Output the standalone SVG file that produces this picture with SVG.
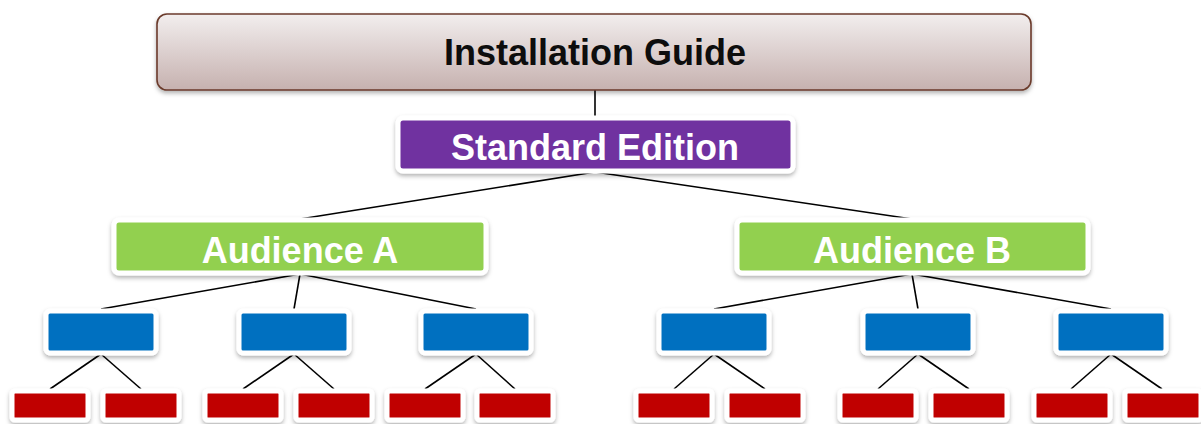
<svg xmlns="http://www.w3.org/2000/svg" width="1201" height="424" viewBox="0 0 1201 424">
<defs>
<linearGradient id="gTop" x1="0" y1="0" x2="0" y2="1">
<stop offset="0" stop-color="#f2eeee"/>
<stop offset="1" stop-color="#c6b1af"/>
</linearGradient>
<filter id="sh" x="-10%" y="-20%" width="120%" height="150%">
<feDropShadow dx="0" dy="2.5" stdDeviation="2" flood-color="#000" flood-opacity="0.3"/>
</filter>
<style>
.lnk{stroke:#000;stroke-width:1.6;fill:none}
.box{stroke:#fff;stroke-width:5;filter:url(#sh)}
.blue{fill:#0070c0}
.red{fill:#c00000}
.green{fill:#92d050}
.purple{fill:#7030a0}
.lbl{font-family:"Liberation Sans",Arial,sans-serif;font-weight:bold;font-size:36px;text-anchor:middle}
</style>
</defs>
<g id="connectors">
<line class="lnk" x1="595" y1="90" x2="595" y2="118"/>
<line class="lnk" x1="595" y1="172" x2="300" y2="219"/>
<line class="lnk" x1="595" y1="172" x2="912" y2="219"/>
<line class="lnk" x1="300" y1="274" x2="101" y2="309"/>
<line class="lnk" x1="300" y1="274" x2="294" y2="309"/>
<line class="lnk" x1="300" y1="274" x2="476" y2="309"/>
<line class="lnk" x1="912" y1="274" x2="714" y2="309"/>
<line class="lnk" x1="912" y1="274" x2="918" y2="309"/>
<line class="lnk" x1="912" y1="274" x2="1111" y2="309"/>
<line class="lnk" x1="101" y1="354" x2="50" y2="389"/>
<line class="lnk" x1="101" y1="354" x2="141" y2="389"/>
<line class="lnk" x1="294" y1="354" x2="243" y2="389"/>
<line class="lnk" x1="294" y1="354" x2="334" y2="389"/>
<line class="lnk" x1="476" y1="354" x2="425" y2="389"/>
<line class="lnk" x1="476" y1="354" x2="515" y2="389"/>
<line class="lnk" x1="714" y1="354" x2="674" y2="389"/>
<line class="lnk" x1="714" y1="354" x2="765" y2="389"/>
<line class="lnk" x1="918" y1="354" x2="878" y2="389"/>
<line class="lnk" x1="918" y1="354" x2="969" y2="389"/>
<line class="lnk" x1="1111" y1="354" x2="1071" y2="389"/>
<line class="lnk" x1="1111" y1="354" x2="1162" y2="389"/>
</g>
<g id="installation-guide">
<rect x="157" y="14" width="874" height="76" rx="10" fill="url(#gTop)" stroke="#6b3a2b" stroke-width="1.6" filter="url(#sh)"/>
<text class="lbl" x="595" y="65" fill="#0d0d0d">Installation Guide</text>
</g>
<g id="standard-edition">
<rect class="box purple" x="398" y="118" width="395" height="53" rx="5"/>
<text class="lbl" x="595" y="160" fill="#fff">Standard Edition</text>
</g>
<g id="audience-a">
<rect class="box green" x="114" y="220" width="372" height="53" rx="5"/>
<text class="lbl" x="300" y="263" fill="#fff">Audience A</text>
</g>
<g id="audience-b">
<rect class="box green" x="737" y="220" width="351" height="53" rx="5"/>
<text class="lbl" x="912" y="263" fill="#fff">Audience B</text>
</g>
<g id="a1"><rect class="box blue" x="46" y="311" width="110" height="42" rx="4"/></g>
<g id="a2"><rect class="box blue" x="239" y="311" width="110" height="42" rx="4"/></g>
<g id="a3"><rect class="box blue" x="421" y="311" width="110" height="42" rx="4"/></g>
<g id="b1"><rect class="box blue" x="659" y="311" width="110" height="42" rx="4"/></g>
<g id="b2"><rect class="box blue" x="863" y="311" width="110" height="42" rx="4"/></g>
<g id="b3"><rect class="box blue" x="1056" y="311" width="110" height="42" rx="4"/></g>
<g id="a1-1"><rect class="box red" x="12" y="391" width="76" height="29" rx="3"/></g>
<g id="a1-2"><rect class="box red" x="103" y="391" width="76" height="29" rx="3"/></g>
<g id="a2-1"><rect class="box red" x="205" y="391" width="76" height="29" rx="3"/></g>
<g id="a2-2"><rect class="box red" x="296" y="391" width="76" height="29" rx="3"/></g>
<g id="a3-1"><rect class="box red" x="387" y="391" width="76" height="29" rx="3"/></g>
<g id="a3-2"><rect class="box red" x="477" y="391" width="76" height="29" rx="3"/></g>
<g id="b1-1"><rect class="box red" x="636" y="391" width="76" height="29" rx="3"/></g>
<g id="b1-2"><rect class="box red" x="727" y="391" width="76" height="29" rx="3"/></g>
<g id="b2-1"><rect class="box red" x="840" y="391" width="76" height="29" rx="3"/></g>
<g id="b2-2"><rect class="box red" x="931" y="391" width="76" height="29" rx="3"/></g>
<g id="b3-1"><rect class="box red" x="1034" y="391" width="76" height="29" rx="3"/></g>
<g id="b3-2"><rect class="box red" x="1125" y="391" width="76" height="29" rx="3"/></g>
</svg>
